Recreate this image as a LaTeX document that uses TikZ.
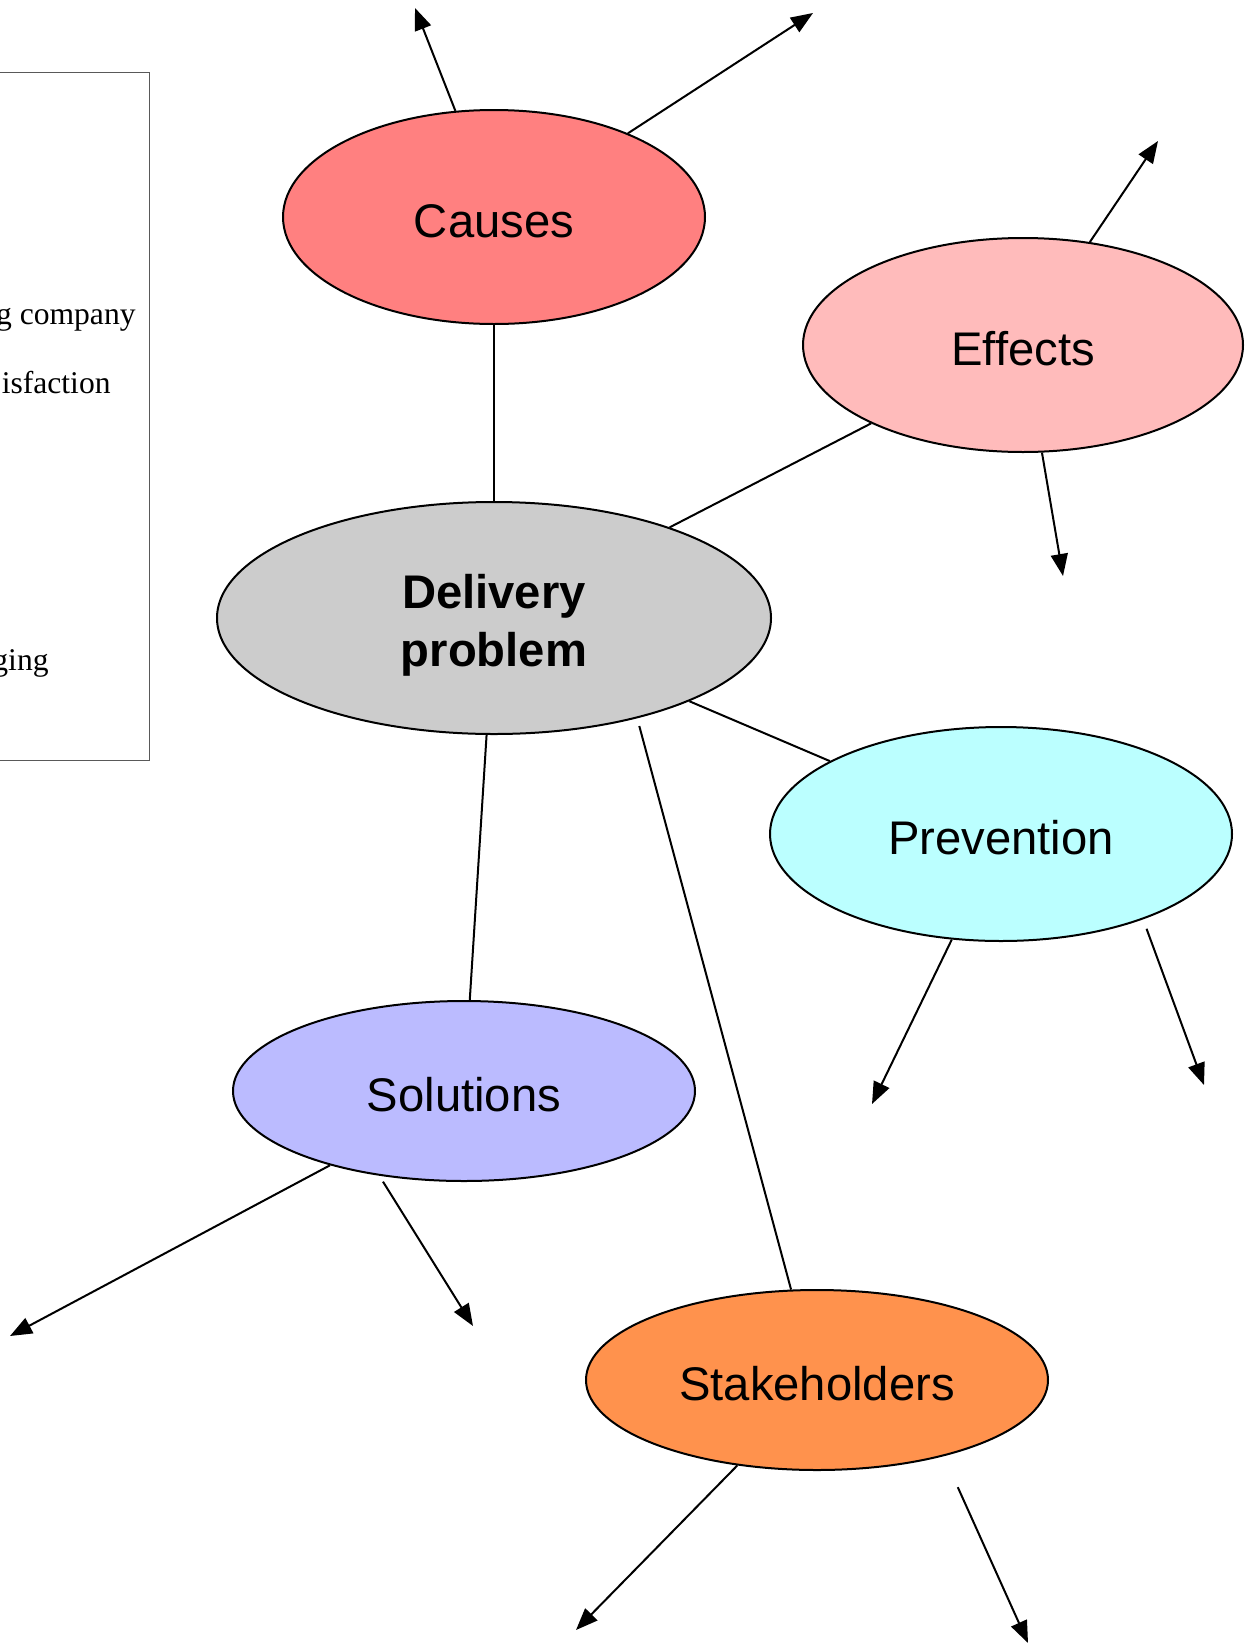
\documentclass[tikz,border=0pt]{standalone}
\usepackage{fontspec}
\setmainfont{Liberation Serif}
\newfontfamily\helv{Liberation Sans}
\usetikzlibrary{positioning, arrows.meta, shapes.geometric}
\definecolor{causefill}{RGB}{255,128,128}
\definecolor{effectfill}{RGB}{255,187,187}
\definecolor{deliveryfill}{RGB}{204,204,204}
\definecolor{preventfill}{RGB}{187,255,255}
\definecolor{solutionfill}{RGB}{187,187,255}
\definecolor{stakefill}{RGB}{255,146,77}

\begin{document}
\begin{tikzpicture}[x=0.5pt, y=-0.5pt,
  hubtopic/.style={ellipse, draw, line width=1pt, inner sep=0pt, align=center,
    font=\helv\fontsize{23.6}{29}\selectfont},
  topic/.style={hubtopic, text height=20pt, text depth=0pt},
  link/.style={line width=1pt},
  branch/.style={line width=1pt, -{Triangle[length=11pt,width=8.5pt]}},
  notetext/.style={anchor=base east, inner sep=0pt, font=\fontsize{15.8}{19}\selectfont}]

\useasboundingbox (0,0) rectangle (1244,1644);

% Side box
\draw[black!65, line width=0.5pt] (-20,72) rectangle (149,760);
\node[notetext] (note1) at (136,324) {g company};
\node[notetext] (note2) at (111,393) {isfaction};
\node[notetext] (note3) at (49,670) {ging};

% Topics
\node[topic, fill=causefill, minimum width=211pt, minimum height=107pt] (causes) at (494,217) {Causes};
\node[topic, fill=effectfill, minimum width=220pt, minimum height=107pt] (effects) at (1023,345) {Effects};
\node[hubtopic, fill=deliveryfill, minimum width=277pt, minimum height=116pt,
  font=\helv\bfseries\fontsize{23.6}{29}\selectfont] (delivery) at (494,618) {\rule{0pt}{24.7pt}Delivery\\problem};
\node[topic, fill=preventfill, minimum width=231pt, minimum height=107pt] (prevention) at (1001,834) {Prevention};
\node[topic, fill=solutionfill, minimum width=231pt, minimum height=90pt] (solutions) at (464,1091) {Solutions};
\node[topic, fill=stakefill, minimum width=231pt, minimum height=90pt] (stakeholders) at (817,1380) {Stakeholders};

% Links to the centre
\draw[link] (causes) -- (delivery);
\draw[link] (effects) -- (delivery);
\draw[link] (delivery) -- (prevention);
\draw[link] (delivery) -- (solutions);
\draw[link, shorten <=4pt] (delivery.-35) -- (stakeholders.106);

% Free ends
\coordinate (c1) at (415,8);
\coordinate (c2) at (813,13);
\coordinate (e1) at (1158,141);
\coordinate (e2) at (1063,576);
\coordinate (p1) at (872,1104);
\coordinate (p2) at (1204,1085);
\coordinate (s1) at (10,1336);
\coordinate (s2) at (473,1326);
\coordinate (k1) at (576,1630);
\coordinate (k2) at (1028,1643);

% Branches
\draw[branch] (causes.110.7) -- (c1);
\draw[branch] (causes.32.8) -- (c2);
\draw[branch] (effects.57) -- (e1);
\draw[branch] (effects.-80.5) -- (e2);
\draw[branch] (prevention.-115.7) -- (p1);
\draw[branch, shorten <=5pt] (prevention.-31.7) -- (p2);
\draw[branch] (solutions.-151.8) -- (s1);
\draw[branch, shorten <=3.5pt] (solutions.-135.7) -- (s2);
\draw[branch] (stakeholders.-133.3) -- (k1);
\draw[branch, shorten <=17pt] (stakeholders.-31.6) -- (k2);

\end{tikzpicture}
\end{document}
